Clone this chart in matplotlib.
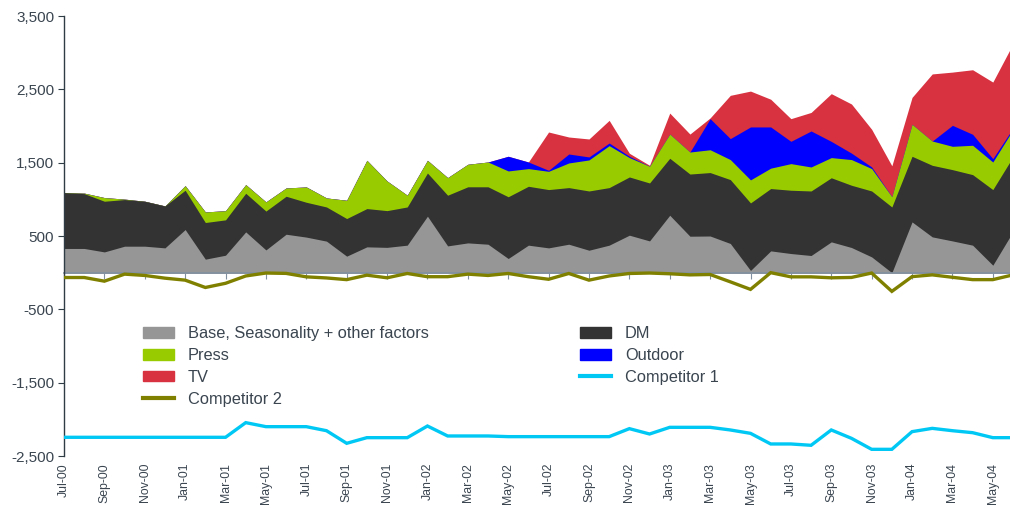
import matplotlib
matplotlib.use("Agg")
import matplotlib.pyplot as plt
import numpy as np
from matplotlib.patches import Patch
from matplotlib.lines import Line2D

plt.rcParams['font.family'] = ['Liberation Sans', 'DejaVu Sans']

months = ["Jul-00", "Aug-00", "Sep-00", "Oct-00", "Nov-00", "Dec-00",
          "Jan-01", "Feb-01", "Mar-01", "Apr-01", "May-01", "Jun-01",
          "Jul-01", "Aug-01", "Sep-01", "Oct-01", "Nov-01", "Dec-01",
          "Jan-02", "Feb-02", "Mar-02", "Apr-02", "May-02", "Jun-02",
          "Jul-02", "Aug-02", "Sep-02", "Oct-02", "Nov-02", "Dec-02",
          "Jan-03", "Feb-03", "Mar-03", "Apr-03", "May-03", "Jun-03",
          "Jul-03", "Aug-03", "Sep-03", "Oct-03", "Nov-03", "Dec-03",
          "Jan-04", "Feb-04", "Mar-04", "Apr-04", "May-04", "Jun-04"]

base = [330, 330, 283, 361, 361, 338, 588, 184, 238, 556, 310, 524,
        485, 430, 225, 352, 345, 375, 770, 365, 406, 388, 193, 375,
        338, 388, 306, 375, 511, 433, 783, 497, 500, 398, 30, 297,
        261, 234, 420, 343, 215, 0, 692, 488, 433, 375, 102, 560]
dm = [762, 748, 691, 636, 613, 572, 536, 500, 482, 527, 530, 518,
      475, 466, 513, 522, 501, 521, 589, 691, 765, 783, 842, 803,
      795, 772, 808, 785, 794, 790, 777, 848, 865, 871, 921, 850,
      863, 880, 874, 849, 899, 896, 895, 976, 972, 962, 1031, 1020]
press = [0, 7, 50, 6, 0, 0, 63, 144, 125, 118, 125, 113,
         209, 123, 249, 658, 404, 160, 173, 240, 307, 338, 352, 241,
         249, 336, 423, 572, 264, 228, 330, 300, 311, 273, 314, 278,
         363, 327, 275, 350, 305, 139, 436, 331, 318, 400, 376, 370]
outdoor = [0, 0, 0, 0, 0, 0, 0, 0, 0, 0, 0, 0,
           0, 0, 0, 0, 0, 0, 0, 0, 0, 0, 200, 90,
           14, 122, 41, 36, 18, 0, 0, 0, 424, 286, 722, 562,
           304, 491, 221, 88, 23, 0, 0, 0, 286, 150, 46, 20]
tv = [0, 0, 0, 0, 0, 0, 0, 0, 0, 0, 0, 0,
      0, 0, 0, 0, 0, 0, 0, 0, 0, 0, 0, 0,
      522, 232, 245, 309, 41, 13, 286, 245, 10, 590, 489, 378,
      309, 253, 651, 670, 513, 422, 367, 915, 726, 880, 1044, 1150]
competitor1 = [-2245, -2245, -2245, -2245, -2245, -2245, -2245, -2245, -2245, -2045, -2100, -2100,
               -2100, -2155, -2327, -2250, -2250, -2250, -2091, -2227, -2227, -2227, -2236, -2236,
               -2236, -2236, -2236, -2236, -2127, -2200, -2109, -2109, -2109, -2145, -2191, -2336,
               -2336, -2354, -2145, -2259, -2409, -2409, -2168, -2123, -2155, -2182, -2250, -2250]
competitor2 = [-66, -66, -116, -20, -38, -75, -102, -202, -145, -45, -5, -10,
               -57, -72, -95, -34, -70, -11, -55, -55, -20, -38, -11, -55,
               -90, -11, -102, -45, -11, -5, -15, -30, -25, -125, -228, 0,
               -57, -57, -70, -65, -5, -255, -54, -30, -63, -95, -95, -30]

yticks = [-2500, -1500, -500, 500, 1500, 2500, 3500]

c_base = '#969696'
c_dm = '#333333'
c_press = '#99cc00'
c_out = '#0000ff'
c_tv = '#d8313f'
c_c1 = '#00c8f5'
c_c2 = '#808000'
txt = '#3a4550'

fig = plt.figure(figsize=(10.1, 5.08), dpi=100)
ax = fig.add_axes([64/1010, 52/508, (1013-64)/1010, 440/508])

x = np.arange(len(months))
layers = [base, dm, press, outdoor, tv]
colors = [c_base, c_dm, c_press, c_out, c_tv]
tops = np.cumsum(np.array(layers, dtype=float), axis=0)
# draw from the top layer down so the boundaries have no seams
for top, col in zip(tops[::-1], colors[::-1]):
    ax.fill_between(x, 0, top, color=col, linewidth=0, zorder=1)

ax.plot(x, competitor1, color=c_c1, lw=2.4, zorder=3, solid_joinstyle='miter')
ax.plot(x, competitor2, color=c_c2, lw=2.4, zorder=3, solid_joinstyle='miter')

ax.set_xlim(0, len(months) - 1)
ax.set_ylim(-2500, 3500)
ax.set_yticks(yticks)
ax.set_yticklabels([f"{v:,}" for v in yticks], fontsize=11, color=txt)
ax.tick_params(axis='y', direction='out', length=4, color='#2f3b45', pad=3)

for s in ['top', 'right']:
    ax.spines[s].set_visible(False)
ax.spines['left'].set_color('#2f3b45')
ax.spines['left'].set_linewidth(1.0)
ax.spines['bottom'].set_position(('data', 0))
ax.spines['bottom'].set_color('#8090a0')
ax.spines['bottom'].set_linewidth(1.2)
ax.spines['bottom'].set_zorder(2)

ax.set_xticks(x[::2])
ax.tick_params(axis='x', direction='out', length=4, color='#8090a0', labelbottom=False)

sec = ax.secondary_xaxis(0.0)
sec.set_xticks(x[::2], labels=months[::2])
sec.tick_params(axis='x', length=0, pad=5, labelsize=8.8, labelcolor=txt, labelrotation=90)
sec.spines['bottom'].set_visible(False)

handles = [Patch(color=c_base), Patch(color=c_press), Patch(color=c_tv),
           Line2D([], [], color=c_c2, lw=3),
           Patch(color=c_dm), Patch(color=c_out),
           Line2D([], [], color=c_c1, lw=3)]
labels = ["Base, Seasonality + other factors", "Press", "TV", "Competitor 2",
          "DM", "Outdoor", "Competitor 1"]
leg = ax.legend(handles, labels, ncol=2, loc='upper left',
                bbox_to_anchor=(143/1010, 1 - 326/508), bbox_transform=fig.transFigure,
                frameon=False, fontsize=11.8, handlelength=1.9, handleheight=0.65,
                handletextpad=0.85, columnspacing=9.2, labelspacing=0.42,
                borderpad=0, borderaxespad=0)
for t in leg.get_texts():
    t.set_color(txt)

fig.savefig('out.png', dpi=100)
